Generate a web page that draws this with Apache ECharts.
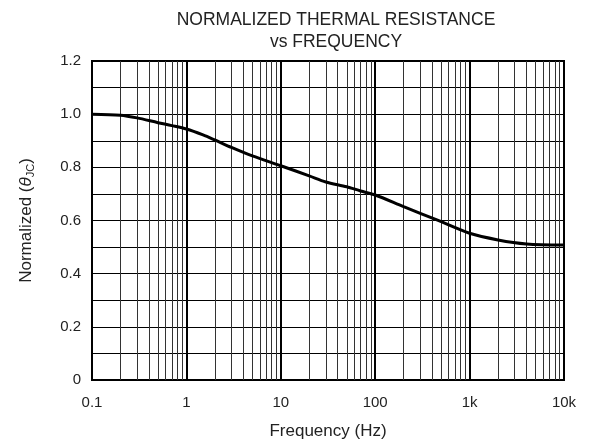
<!DOCTYPE html>
<html>
<head>
<meta charset="utf-8">
<script src="https://cdn.jsdelivr.net/npm/echarts@6/dist/echarts.min.js"></script>
<style>html,body{margin:0;padding:0;background:#fff}#c{width:591px;height:445px}</style>
</head>
<body>
<div id="c"></div>
<script>
var freq = [0.1,0.2,0.3,0.5,0.7,1,1.5,2,3,5,10,20,30,50,70,100,200,450,1000,2000,4000,10000];
var norm = [1.0,0.996,0.986,0.968,0.957,0.944,0.922,0.903,0.875,0.843,0.806,0.768,0.745,0.727,0.711,0.696,0.652,0.602,0.552,0.527,0.512,0.508];
var xTickValues = [0.1,1,10,100,1000,10000];
var xTickLabels = ['0.1','1','10','100','1k','10k'];
var minorMultipliers = [2,3,4,5,6,7,8,9];
var decades = [0.1,1,10,100,1000];

var minorLines = [];
decades.forEach(function(d){ minorMultipliers.forEach(function(m){ minorLines.push({xAxis: +(d*m).toPrecision(6)}); }); });

var font = 'Liberation Sans, Arial, sans-serif';
var chart = echarts.init(document.getElementById('c'), null, {renderer:'canvas'});
chart.setOption({
  animation: false,
  backgroundColor: '#fff',
  title: {
    text: 'NORMALIZED THERMAL RESISTANCE\nvs FREQUENCY',
    left: 331, top: 4, textAlign: 'center',
    textStyle: {fontFamily: font, fontSize: 17.5, fontWeight: 'normal', color: '#222', lineHeight: 22}
  },
  grid: {left: 92, top: 61, right: 27, bottom: 65, show: true, borderColor: '#000', borderWidth: 2, backgroundColor: 'transparent'},
  xAxis: {
    type: 'log', logBase: 10, min: 0.1, max: 10000,
    name: 'Frequency (Hz)', nameLocation: 'middle', nameGap: 43,
    nameTextStyle: {fontFamily: font, fontSize: 17, color: '#222'},
    axisLine: {show: true, lineStyle: {color: '#000', width: 2}},
    axisTick: {show: false},
    axisLabel: {margin: 15, fontFamily: font, fontSize: 15, color: '#222',
      formatter: function(v){ for (var i=0;i<xTickValues.length;i++){ if (Math.abs(Math.log10(v)-Math.log10(xTickValues[i]))<1e-6) return xTickLabels[i]; } return ''; }},
    splitLine: {show: true, lineStyle: {color: '#000', width: 2}}
  },
  yAxis: {
    type: 'value', min: 0, max: 1.2, interval: 0.2,
    name: '{n|Normalized (}{t|θ}{s|JC}{n|)}', nameLocation: 'middle', nameGap: 56,
    nameTextStyle: {rich: {
      n: {fontFamily: font, fontSize: 17, color: '#222'},
      t: {fontFamily: font, fontSize: 17, color: '#222', fontStyle: 'italic'},
      s: {fontFamily: font, fontSize: 11, color: '#222', verticalAlign: 'bottom', padding: [8,0,0,0]}
    }},
    axisLine: {show: true, lineStyle: {color: '#000', width: 2}},
    axisTick: {show: false},
    axisLabel: {margin: 11, fontFamily: font, fontSize: 15, color: '#222',
      formatter: function(v){ return v === 0 ? '0' : v.toFixed(1); }},
    splitLine: {show: true, lineStyle: {color: '#000', width: 1}},
    minorTick: {show: false, splitNumber: 2},
    minorSplitLine: {show: true, lineStyle: {color: '#000', width: 1}}
  },
  series: [
    {
      type: 'line', data: [], z: 1, silent: true,
      markLine: {silent: true, symbol: 'none', animation: false, label: {show: false},
        lineStyle: {color: '#333', width: 1, type: 'solid'}, data: minorLines}
    },
    {
      type: 'line', z: 5, smooth: 0.3, showSymbol: false, symbol: 'none',
      data: freq.map(function(f,i){ return [f, norm[i]]; }),
      lineStyle: {color: '#000', width: 3}
    }
  ]
});
</script>
</body>
</html>
